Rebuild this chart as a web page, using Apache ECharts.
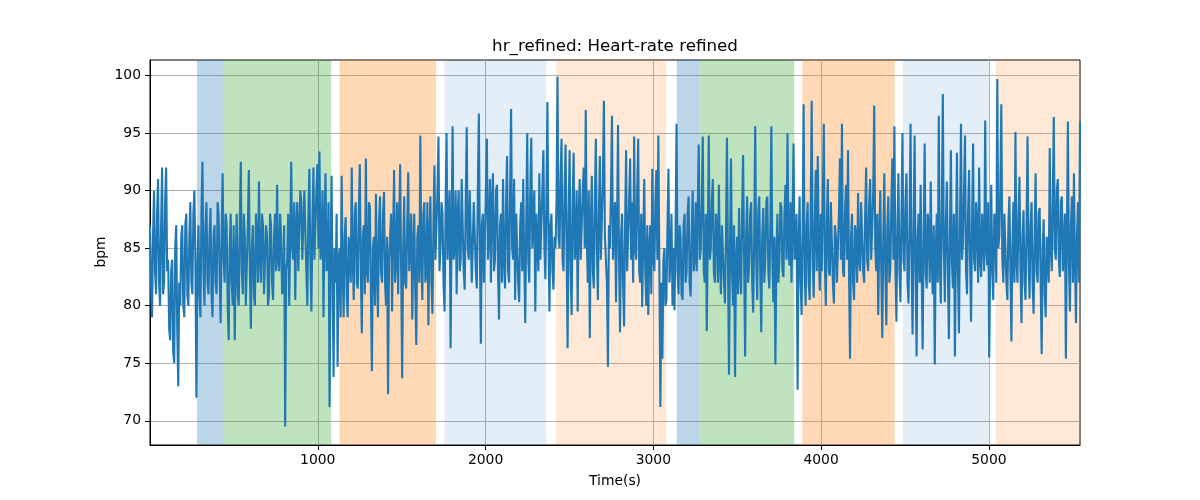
<!DOCTYPE html>
<html><head><meta charset="utf-8">
<script src="https://cdn.jsdelivr.net/npm/echarts@6/dist/echarts.min.js"></script>
<style>html,body{margin:0;padding:0;background:#fff}#c{width:1200px;height:500px}</style>
</head><body><div id="c"></div>
<script>
const hrValues = [
87,82, 79,86, 90,83, 81,88, 91,82, 80,87, 92,81, 82,89, 92,83, 84,78,
77,83, 84,76, 75,85, 87,78, 73,82, 80,86, 87,80, 79,87, 88,81, 80,86,
89,82, 81,88, 90,84, 72,83, 87,81, 79,88, 92.5,83, 80,87, 89,82, 81,86,
88.5,81, 79,86, 87,82, 81,89, 88,83, 78.5,86, 91.5,84, 82,88, 87,80, 77,85,
88,82, 80,87, 77,84, 88,81, 80,87, 92.5,83, 81,88, 86,80, 80,87, 91.8,83,
78,85, 87,81, 80,88, 86,82, 90.8,84, 82,88, 87,81, 81,87, 86,80, 81,88,
87,82, 80.5,86, 88,83, 90.5,84, 83,88, 86,81, 82,87, 69.5,83, 84,88, 80,86,
92.5,85, 84,89, 80.5,87, 89,83, 83,90, 89,84, 84,90, 90,83, 80,88, 91.9,84,
79.5,87, 92,84, 84,90, 92.3,85, 93.4,84, 85,90, 79,87, 91.5,83, 84,89, 71.2,84,
91.3,82, 73.8,85, 82,88, 74.7,84, 85,79, 91.3,83, 79,86,
87.7,81, 79,86, 86,82, 92,84, 80.5,88, 89,82, 81.5,88, 92.3,83, 77.6,86, 87,81,
92.8,83, 82,89, 88.6,81, 74.3,85, 86,80, 89.7,83, 79,87, 89.5,83, 82,88, 89.9,82,
80,86, 72.3,84, 84,88, 79.5,86, 91.8,82, 84,89, 81,87, 92.3,83, 73.7,85, 89.5,82,
81.5,87, 91.6,83, 83,88, 78.8,85, 88,81, 76.6,86, 87,82, 94.8,84, 80.5,88, 89,82,
83,89, 78.3,86, 89.5,82, 79.3,87, 92.2,84, 84,90, 94.7,83, 85,89,
88,82, 79.5,88, 95,84, 84,90, 76.3,86, 95.6,84, 85,90, 81,88, 90,83, 84,91,
91,83, 81.4,89, 95.5,85, 84,90, 90,82, 82,89, 89,83, 81.5,90, 96.7,85, 76.7,87,
88,82, 82,90, 94.5,84, 86,91, 82,89, 91.5,83, 84,90, 90.5,83, 78.8,87, 88,82,
91,84, 81.5,89, 93,83, 82,90, 97.1,85, 84,91, 80.5,88, 88,82, 80.3,87, 89,83,
91,84, 78.5,87, 95,84, 82,90, 94.6,85, 85,90, 79.5,88,
88,83, 91.5,84, 84,90, 93.5,85, 82.3,89, 97.7,86, 79.5,87, 88,83, 81.4,86, 85,89,
99.9,86, 85,91, 94.5,84, 83,90, 94,85, 76.3,88, 93.5,83, 79.2,89, 93.3,84, 85,90,
79.5,88, 91,84, 84,90, 92,85, 97,86, 82,90, 77.2,87, 91.3,83, 81.5,89, 94.5,85,
80.5,88, 93,84, 84,91, 97.8,86, 86,82, 74.7,87, 85,90, 96.5,84, 84,89, 80.3,87,
95.7,84, 77.7,86, 88,82, 78.2,87, 93.5,83, 83,89, 92.8,84,
89,82, 94.7,85, 84,90, 94.5,83, 82,88, 79.9,86, 91,83, 80,87, 79.2,85, 87,81,
91.9,84, 83,89, 91.8,84, 94.8,83, 71.2,82, 75.4,84, 85,80, 80.5,87, 91.9,82, 84,88,
80,85, 79.6,86, 95.8,83, 81,87, 86,81, 80.5,87, 88,82, 83,88, 89.5,82, 80.8,86,
90,83, 84,89, 83,88, 94,84, 85,89, 94.7,83, 82,88, 77.8,86, 94.8,84, 85,89,
91,83, 82,88, 87,82, 90.5,84, 81,87, 87,82, 80.2,86,
94.6,84, 74,85, 92.8,83, 80,87, 73.8,84, 86,81, 88.5,83, 81,88, 93.1,84, 75.6,86,
89.5,82, 83.5,88, 89,82, 79.4,86, 95.6,84, 80.5,88, 89.5,83, 77.7,86, 88.5,82, 84,89,
89.5,83, 81.5,87, 95.6,84, 80.3,86, 74.9,84, 88,82, 84,89, 88.5,83, 82.5,88, 90.5,84,
95,85, 83.5,89, 82,87, 94.1,84, 84.5,88, 72.7,85, 89.5,82, 79.2,87, 97.5,83, 80,87,
89,82, 80.5,88, 97.8,84, 80.7,87, 91.8,83, 93,85, 81.3,88,
83,89, 95.8,84, 80,87, 91,83, 82.6,89, 89,82, 80.2,87, 86,82, 82,88, 92.8,84,
95.8,83, 82.5,88, 90.5,84, 93.5,83, 75.4,86, 88,82, 80.5,87, 86,82, 89.8,84, 83,89,
89,83, 82,88, 92,84, 83,89, 91,84, 84,90, 97.4,85, 83,88, 79.2,86, 90,83,
77.2,86, 91.5,83, 78.3,87, 89.5,82, 83.3,89, 92.8,84, 95.6,83, 78.6,87, 91.5,83, 80.3,88,
95,84, 83,89, 91.5,82, 80.2,87, 95.8,84, 77.5,86, 94.8,83,
75.6,86, 88,82, 90.5,83, 76.2,86, 94.1,83, 81.5,88, 87,82, 90.8,84, 81,87, 74.9,85,
88,82, 96.5,84, 80.2,88, 98.4,85, 80.3,87, 90.8,83, 77.1,86, 93.5,84, 81.5,88, 75.6,85,
93.3,83, 77.6,87, 95.8,84, 85.5,90, 94.8,83, 81,88, 91.8,84, 78.6,87, 94.1,84, 83,89,
87,82, 92,84, 82.5,88, 88,83, 96.1,85, 83.5,89, 75.5,84, 90.5,83, 80.5,88, 87,82,
99.7,85, 86,90, 97.5,84, 82,88, 88,82, 80.5,87, 89.5,83,
76.9,85, 89,82, 95.1,84, 82,88, 91.2,83, 78.5,86, 88.3,82, 80.5,87, 94.7,84, 80.6,87,
89,82, 79.3,86, 91.5,83, 82,88, 88.5,82, 75.8,85, 87.5,81, 79,86, 86,82, 93.7,85,
83,89, 96.4,85, 84,90, 91,84, 82.5,89, 89.5,83, 83,88, 75.4,86, 96,84, 79.5,87,
89.5,82, 91.5,84, 78.5,86, 89,82, 96
];
const SAMPLE_START = 0;     // s
const SAMPLE_END = 5543;    // s (time of last sample)

const xTicks = [1000, 2000, 3000, 4000, 5000];
const yTicks = [70, 75, 80, 85, 90, 95, 100];

// Shaded phases (seconds)
const bandStarts = [280, 435, 1130, 1755, 2420, 3140, 3275, 3888, 4487, 5040];
const bandEnds   = [435, 1080, 1705, 2362, 3077, 3275, 3840, 4438, 5000, 5543];
const bandKinds  = ['blue', 'green', 'orange', 'paleblue', 'paleorange',
                    'blue', 'green', 'orange', 'paleblue', 'paleorange'];

const X_MIN = 0, X_MAX = 5543, Y_MIN = 67.9, Y_MAX = 101.35;

const kindColor = {
  blue: 'rgba(31,119,180,0.3)',
  green: 'rgba(44,160,44,0.3)',
  orange: 'rgba(255,127,14,0.3)',
  paleblue: 'rgba(31,119,180,0.12)',
  paleorange: 'rgba(255,127,14,0.17)'
};

const step = (SAMPLE_END - SAMPLE_START) / (hrValues.length - 1);
const lineData = hrValues.map((v, i) => [SAMPLE_START + i * step, v]);
const areaData = bandStarts.map((s, i) => [
  { xAxis: s, itemStyle: { color: kindColor[bandKinds[i]] } },
  { xAxis: bandEnds[i] }
]);

const FONT = 'DejaVu Sans';
const chart = echarts.init(document.getElementById('c'), null, { renderer: 'canvas' });
chart.setOption({
  animation: false,
  backgroundColor: '#fff',
  grid: { left: 150, right: 120, top: 60, bottom: 55, show: true, borderColor: '#000', borderWidth: 1, backgroundColor: 'transparent' },
  xAxis: {
    type: 'value', min: X_MIN, max: X_MAX,
    axisLine: { show: true, lineStyle: { color: '#000', width: 1 } },
    axisTick: { show: true, inside: false, length: 5, lineStyle: { color: '#000' }, customValues: xTicks },
    axisLabel: { color: '#000', fontFamily: FONT, fontSize: 13.9, margin: 8, customValues: xTicks, formatter: v => String(v) },
    splitLine: { show: true, lineStyle: { color: '#b0b0b0', width: 1 } }
  },
  yAxis: {
    type: 'value', min: Y_MIN, max: Y_MAX,
    axisLine: { show: true, lineStyle: { color: '#000', width: 1 } },
    axisTick: { show: true, inside: false, length: 5, lineStyle: { color: '#000' }, customValues: yTicks },
    axisLabel: { color: '#000', fontFamily: FONT, fontSize: 13.9, margin: 9, customValues: yTicks, formatter: v => String(v) },
    splitLine: { show: true, lineStyle: { color: '#b0b0b0', width: 1 } }
  },
  series: [
    {
      type: 'line', data: [], z: 1, silent: true,
      markArea: { silent: true, data: areaData }
    },
    {
      type: 'line', data: lineData, z: 3, showSymbol: false, symbol: 'none',
      lineStyle: { color: '#1f77b4', width: 2.1 }, clip: true
    }
  ],
  graphic: [
    { type: 'text', x: 615, y: 47, style: { text: 'hr_refined: Heart-rate refined', font: '16.7px "DejaVu Sans"', fill: '#000', textAlign: 'center', textVerticalAlign: 'middle' } },
    { type: 'text', x: 615, y: 481, style: { text: 'Time(s)', font: '13.9px "DejaVu Sans"', fill: '#000', textAlign: 'center', textVerticalAlign: 'middle' } },
    { type: 'text', x: 101, y: 252, rotation: Math.PI / 2, style: { text: 'bpm', font: '13.9px "DejaVu Sans"', fill: '#000', textAlign: 'center', textVerticalAlign: 'middle' } }
  ]
});
</script>
</body></html>
